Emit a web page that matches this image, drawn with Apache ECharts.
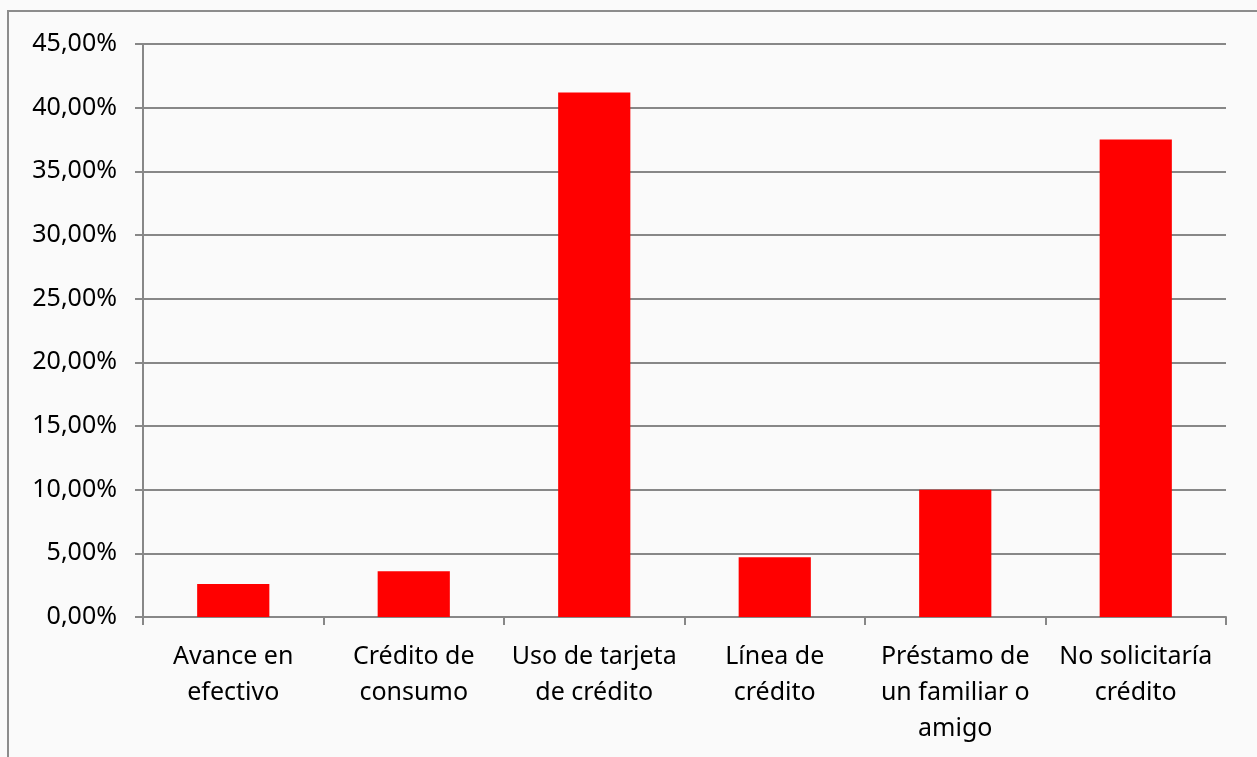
<!DOCTYPE html>
<html>
<head>
<meta charset="utf-8">
<script src="https://cdn.jsdelivr.net/npm/echarts@6/dist/echarts.min.js"></script>
<style>
  html, body { margin: 0; padding: 0; background: #fafafa; }
  #chart { width: 1257px; height: 757px; }
</style>
</head>
<body>
<div id="chart"></div>
<script>
// categorias (eje x)
const categories = [
  "Avance en\nefectivo",
  "Crédito de\nconsumo",
  "Uso de tarjeta\nde crédito",
  "Línea de\ncrédito",
  "Préstamo de\nun familiar o\namigo",
  "No solicitaría\ncrédito"
];
// porcentajes
const values = [2.6, 3.6, 41.2, 4.7, 10.0, 37.5];
const yMax = 45;
const yStep = 5;

const chart = echarts.init(document.getElementById("chart"), null, { renderer: "canvas" });
const font = "'Noto Sans', 'Open Sans', sans-serif";
const option = {
  backgroundColor: "#fafafa",
  animation: false,
  graphic: [
    {
      type: "rect",
      shape: { x: 8, y: 11, width: 1270, height: 770 },
      style: { fill: "transparent", stroke: "#8c8c8c", lineWidth: 2 }
    }
  ],
  grid: {
    left: 143,
    right: 31,
    top: 44,
    bottom: 140
  },
  xAxis: {
    type: "category",
    data: categories,
    axisLine: { show: true, lineStyle: { color: "#878787", width: 2 } },
    axisTick: { show: true, length: 8, lineStyle: { color: "#878787", width: 2 } },
    axisLabel: {
      color: "#000",
      fontFamily: font,
      fontSize: 25,
      lineHeight: 36,
      margin: 22,
      interval: 0
    }
  },
  yAxis: {
    type: "value",
    min: 0,
    max: yMax,
    interval: yStep,
    axisLine: { show: true, lineStyle: { color: "#878787", width: 2 } },
    axisTick: { show: true, length: 8, lineStyle: { color: "#878787", width: 2 } },
    axisLabel: {
      color: "#000",
      fontFamily: font,
      fontSize: 25,
      margin: 26,
      formatter: v => v.toFixed(2).replace(".", ",") + "%"
    },
    splitLine: { lineStyle: { color: "#878787", width: 2 } }
  },
  series: [
    {
      type: "bar",
      data: values,
      barWidth: "40%",
      itemStyle: { color: "#ff0000" }
    }
  ]
};
chart.setOption(option);
</script>
</body>
</html>
